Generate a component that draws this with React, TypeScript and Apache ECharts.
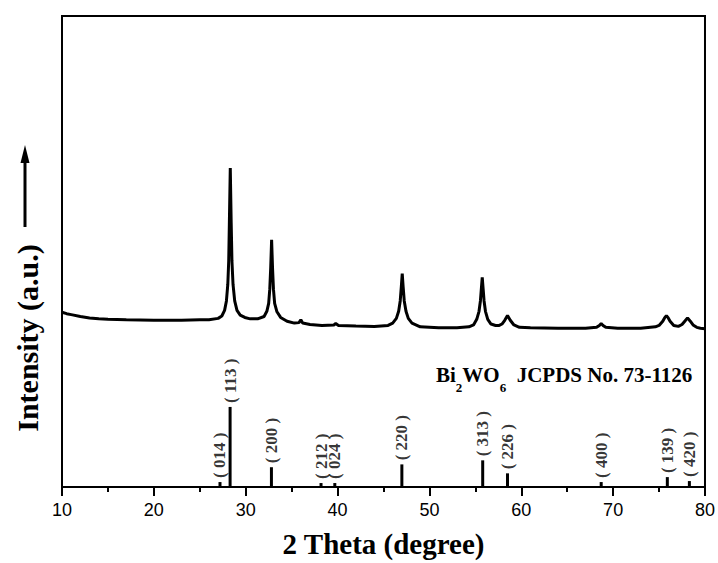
import React, { useEffect, useRef } from "react";
import * as echarts from "echarts";

// Measured XRD pattern (2θ in degrees, intensity in arbitrary units)
const twoTheta = [
  10, 10.5, 11, 12, 13, 14, 15, 17, 20, 23, 25, 26, 27.0, 27.4, 27.7, 27.9, 28.05, 28.15, 28.22, 28.32,
  28.42, 28.5, 28.62, 28.8, 29.05, 29.4, 29.9, 30.5, 31.3, 32.0, 32.3, 32.5, 32.62, 32.72, 32.82, 32.92, 33.02,
  33.15, 33.4, 33.8, 34.5, 35.3, 35.8, 36.0, 36.2, 37.0, 38.3, 39.6, 39.8, 40.1, 42, 44, 45.5, 46.0, 46.4, 46.65,
  46.82, 46.94, 47.04, 47.14, 47.26, 47.45, 47.7, 48.1, 49, 51, 53, 54.3, 54.8, 55.15, 55.4, 55.55, 55.65, 55.75,
  55.85, 55.95, 56.1, 56.35, 56.7, 57.2, 57.6, 57.9, 58.2, 58.5, 58.8, 59.2, 59.8, 61, 64, 67, 68.2, 68.5, 68.7,
  68.9, 69.2, 70.5, 73, 74.6, 75.0, 75.4, 75.6, 75.8, 76.0, 76.2, 76.6, 77.1, 77.5, 77.8, 78.1, 78.4, 78.7, 79.1,
  79.5, 80,
];
const intensity = [
  37.1, 36.8, 36.6, 36.2, 35.9, 35.7, 35.6, 35.5, 35.4, 35.4, 35.5, 35.5, 35.8, 36.3, 37.5, 39.5, 43, 48, 56,
  67.7, 56, 48, 43, 39.5, 37.5, 36.5, 36.0, 35.7, 35.7, 36.2, 37.3, 39, 42, 46.5, 52.5, 46.5, 42, 39, 37.2, 36.0,
  35.2, 34.8, 34.9, 35.5, 34.8, 34.5, 34.3, 34.4, 34.7, 34.3, 34.2, 34.1, 34.3, 34.8, 35.8, 37.3, 39.5, 42.5, 45.3,
  42.5, 39.5, 37.3, 35.8, 34.8, 34.0, 33.8, 33.8, 34.0, 34.4, 35.6, 37.3, 39.5, 42, 44.5, 42, 39.5, 37.3, 35.6,
  34.6, 34.3, 34.3, 34.6, 35.4, 36.4, 35.4, 34.4, 33.9, 33.8, 33.7, 33.7, 33.9, 34.3, 34.7, 34.3, 33.9, 33.7, 33.7,
  34.0, 34.3, 35.2, 35.9, 36.4, 35.9, 35.2, 34.3, 34.1, 34.5, 35.2, 35.9, 35.2, 34.4, 33.9, 33.7, 33.6,
];

// JCPDS No. 73-1126 reference lines
const refPos = [27.2, 28.3, 32.8, 38.2, 39.7, 47.0, 55.8, 58.5, 68.7, 75.9, 78.3];
const refInt = [1.05, 17.0, 4.2, 0.84, 0.84, 4.8, 5.66, 2.9, 1.05, 2.1, 1.26];
const refHkl = ["014", "113", "200", "212", "024", "220", "313", "226", "400", "139", "420"];

const xTicks = [10, 20, 30, 40, 50, 60, 70, 80];

const SERIF = '"Liberation Serif", "Times New Roman", serif';
const SANS = '"Liberation Sans", Arial, sans-serif';

export default function App() {
  const ref = useRef<HTMLDivElement>(null);

  useEffect(() => {
    if (!ref.current) return;
    const chart = echarts.init(ref.current, null, { renderer: "svg" });
    const curve = twoTheta.map((t, i) => [t, intensity[i]]);
    const sticks = refPos.map((p, i) => [p, refInt[i]]);

    chart.setOption({
      animation: false,
      backgroundColor: "#fff",
      grid: {
        left: 62,
        right: 11,
        top: 16,
        bottom: 70,
        show: true,
        borderColor: "#000",
        borderWidth: 2,
        backgroundColor: "transparent",
      },
      xAxis: {
        type: "value",
        min: xTicks[0],
        max: xTicks[xTicks.length - 1],
        interval: 10,
        axisLine: { show: true, lineStyle: { color: "#000", width: 2 } },
        axisTick: { show: true, inside: false, length: 9, lineStyle: { color: "#000", width: 2 } },
        minorTick: { show: true, splitNumber: 2, length: 5, lineStyle: { color: "#000", width: 2 } },
        splitLine: { show: false },
        axisLabel: { color: "#000", fontFamily: SANS, fontSize: 18, margin: 14 },
        name: "2 Theta (degree)",
        nameLocation: "middle",
        nameGap: 42,
        nameTextStyle: { color: "#000", fontFamily: SERIF, fontWeight: "bold", fontSize: 29 },
      },
      yAxis: {
        type: "value",
        min: 0,
        max: 100,
        axisLine: { show: true, lineStyle: { color: "#000", width: 2 } },
        axisTick: { show: false },
        axisLabel: { show: false },
        splitLine: { show: false },
      },
      series: [
        {
          type: "line",
          data: curve,
          showSymbol: false,
          symbol: "none",
          lineStyle: { color: "#000", width: 3 },
          z: 3,
        },
        {
          type: "custom",
          data: sticks,
          renderItem: (params: any, api: any) => {
            const p0 = api.coord([api.value(0), 0]);
            const p1 = api.coord([api.value(0), api.value(1)]);
            return {
              type: "line",
              shape: { x1: p0[0], y1: p0[1], x2: p1[0], y2: p1[1] },
              style: { stroke: "#000", lineWidth: 3 },
            };
          },
          z: 3,
        },
        {
          type: "scatter",
          data: sticks,
          symbol: "circle",
          symbolSize: 0.1,
          itemStyle: { color: "transparent" },
          label: {
            show: true,
            position: "top",
            distance: 4,
            rotate: 90,
            align: "left",
            verticalAlign: "middle",
            color: "#000",
            fontFamily: SERIF,
            fontWeight: "bold",
            fontSize: 17,
            formatter: (p: any) => "( " + refHkl[p.dataIndex] + " )",
          },
          z: 4,
        },
      ],
      graphic: [
        {
          type: "text",
          x: 436,
          y: 364,
          style: {
            text: "{b|Bi}{s|2}{b|WO}{s|6}{b|  JCPDS No. 73-1126}",
            verticalAlign: "top",
            align: "left",
            rich: {
              b: {
                fontFamily: SERIF,
                fontWeight: "bold",
                fontSize: 21,
                lineHeight: 30,
                verticalAlign: "top",
                fill: "#000",
              },
              s: {
                fontFamily: SERIF,
                fontWeight: "bold",
                fontSize: 13,
                verticalAlign: "bottom",
                fill: "#000",
              },
            },
          },
        },
        {
          type: "text",
          x: 27,
          y: 338,
          rotation: Math.PI / 2,
          style: {
            text: "Intensity (a.u.)",
            fontFamily: SERIF,
            fontWeight: "bold",
            fontSize: 30,
            fill: "#000",
            align: "center",
            verticalAlign: "middle",
          },
        },
        {
          type: "line",
          shape: { x1: 25, y1: 227, x2: 25, y2: 160 },
          style: { stroke: "#000", lineWidth: 3 },
        },
        {
          type: "polygon",
          shape: { points: [[25, 145], [20.5, 163], [29.5, 163]] },
          style: { fill: "#000" },
        },
      ],
    });

    return () => chart.dispose();
  }, []);

  return (
    <div
      ref={ref}
      style={{ position: "fixed", left: 0, top: 0, width: 718, height: 563 }}
    />
  );
}
